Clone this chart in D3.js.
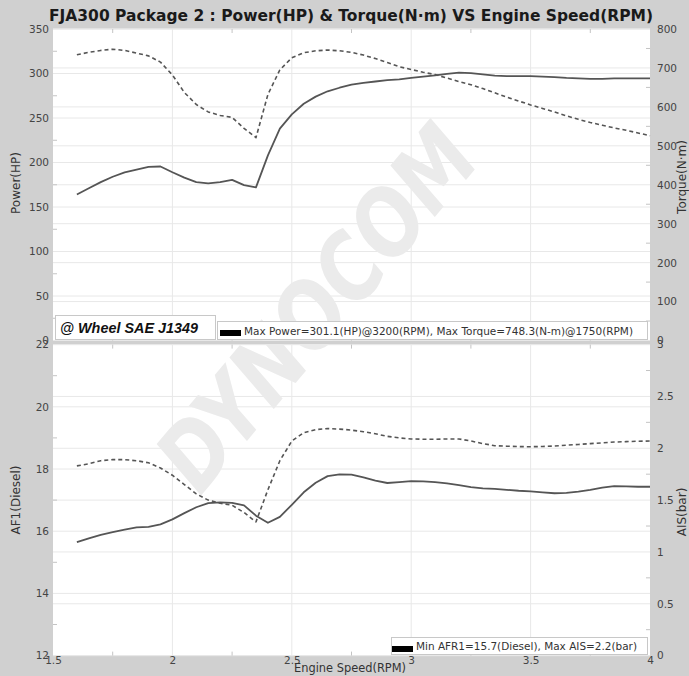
<!DOCTYPE html>
<html>
<head>
<meta charset="utf-8">
<script src="https://cdn.jsdelivr.net/npm/d3@7"></script>
<style>
  body { margin: 0; background: #d0d0d0; }
  svg { display: block; font-family: "DejaVu Sans", Verdana, sans-serif; }
</style>
</head>
<body>
<div id="chart"></div>
<script>
// Engine speed in thousands of RPM
const rpm = [1.60, 1.65, 1.70, 1.75, 1.80, 1.85, 1.90, 1.95, 2.00, 2.05, 2.10, 2.15, 2.20, 2.25, 2.30, 2.35,
  2.40, 2.45, 2.50, 2.55, 2.60, 2.65, 2.70, 2.75, 2.80, 2.85, 2.90, 2.95, 3.00, 3.05, 3.10, 3.15, 3.20,
  3.25, 3.30, 3.35, 3.40, 3.45, 3.50, 3.55, 3.60, 3.65, 3.70, 3.75, 3.80, 3.85, 3.90, 3.95, 4.00];

const powerHP = [164, 171, 178, 184, 189, 192, 195, 195.5, 189, 183, 178, 176.5, 178, 180.5, 174.5, 172,
  208, 238, 254, 266, 274, 280, 284, 287.5, 289.5, 291, 292.5, 293.5, 295, 296.5, 298, 299.5, 301,
  300.5, 299, 297.5, 297, 297, 297, 296.5, 296, 295, 294.5, 294, 294, 294.5, 294.5, 294.5, 294.5];

const torqueNm = [734, 740, 745, 748, 745, 738, 731, 715, 682, 637, 606, 587, 578, 573, 545, 521,
  632, 695, 726, 739, 744, 746, 744, 740, 733, 724, 714, 703, 696, 689, 683, 674, 665,
  657, 647, 636, 625, 615, 605, 596, 587, 577, 568, 560, 553, 546, 540, 533, 526];

const afr1 = [15.65, 15.77, 15.88, 15.97, 16.05, 16.12, 16.14, 16.22, 16.38, 16.58, 16.77, 16.9, 16.93, 16.91, 16.83, 16.5,
  16.27, 16.46, 16.85, 17.25, 17.56, 17.77, 17.83, 17.82, 17.73, 17.63, 17.55, 17.58, 17.61, 17.6, 17.58, 17.54, 17.48,
  17.42, 17.38, 17.36, 17.33, 17.3, 17.28, 17.25, 17.22, 17.23, 17.27, 17.33, 17.4, 17.45, 17.44, 17.43, 17.43];

const ais5 = [1.83, 1.85, 1.88, 1.89, 1.89, 1.88, 1.86, 1.81, 1.74, 1.65, 1.56, 1.50, 1.47, 1.45, 1.38, 1.29,
  1.60, 1.88, 2.07, 2.15, 2.18, 2.19, 2.185, 2.175, 2.16, 2.14, 2.115, 2.10, 2.09, 2.087, 2.087, 2.09, 2.09,
  2.07, 2.045, 2.025, 2.02, 2.016, 2.015, 2.017, 2.022, 2.03, 2.037, 2.045, 2.052, 2.06, 2.064, 2.068, 2.07];

const xTicks = [1.5, 2, 2.5, 3, 3.5, 4];
const hpTicks = [0, 50, 100, 150, 200, 250, 300, 350];
const tqTicks = [0, 100, 200, 300, 400, 500, 600, 700, 800];
const afrTicks = [12, 14, 16, 18, 20, 22];
const aisTicks = [0, 0.5, 1, 1.5, 2, 2.5, 3];

const titleText = "FJA300 Package 2 : Power(HP) & Torque(N·m) VS Engine Speed(RPM)";
const topLegend = "Max Power=301.1(HP)@3200(RPM), Max Torque=748.3(N-m)@1750(RPM)";
const bottomLegend = "Min AFR1=15.7(Diesel), Max AIS=2.2(bar)";

const width = 689, height = 676;
const left = 53, right = 650;
const top1 = 29, bot1 = 340.5, top2 = 344.6, bot2 = 655.6;

const svg = d3.select("#chart").append("svg")
  .attr("width", width)
  .attr("height", height);

svg.append("rect").attr("width", width).attr("height", height).attr("fill", "#d0d0d0");

// scales
const x = d3.scaleLinear().domain([1.5, 4]).range([left, right]);
const yHP = d3.scaleLinear().domain([0, 350]).range([bot1, top1]);
const yTq = d3.scaleLinear().domain([0, 800]).range([bot1, top1]);
const yAfr = d3.scaleLinear().domain([12, 22]).range([bot2, top2]);
const yAis = d3.scaleLinear().domain([0, 3]).range([bot2, top2]);

// plot backgrounds
[[top1, bot1], [top2, bot2]].forEach(([t, b]) => {
  svg.append("rect")
    .attr("x", left).attr("y", t)
    .attr("width", right - left).attr("height", b - t)
    .attr("fill", "#fff");
});

const defs = svg.append("defs");
const clip = defs.append("clipPath").attr("id", "plots");
clip.append("rect").attr("x", left).attr("y", top1).attr("width", right - left).attr("height", bot1 - top1);
clip.append("rect").attr("x", left).attr("y", top2).attr("width", right - left).attr("height", bot2 - top2);

// gridlines
const grid = svg.append("g").attr("stroke", "#e8e8e8").attr("stroke-width", 1);
hpTicks.forEach(v => grid.append("line").attr("x1", left).attr("x2", right).attr("y1", yHP(v)).attr("y2", yHP(v)));
tqTicks.forEach(v => grid.append("line").attr("x1", left).attr("x2", right).attr("y1", yTq(v)).attr("y2", yTq(v)));
afrTicks.forEach(v => grid.append("line").attr("x1", left).attr("x2", right).attr("y1", yAfr(v)).attr("y2", yAfr(v)));
aisTicks.forEach(v => grid.append("line").attr("x1", left).attr("x2", right).attr("y1", yAis(v)).attr("y2", yAis(v)));
[2, 2.5, 3, 3.5].forEach(v => {
  grid.append("line").attr("x1", x(v)).attr("x2", x(v)).attr("y1", top1).attr("y2", bot1);
  grid.append("line").attr("x1", x(v)).attr("x2", x(v)).attr("y1", top2).attr("y2", bot2);
});

// small edge ticks
const edge = svg.append("g").attr("stroke", "#c4c4c4").attr("stroke-width", 1);
d3.range(1.75, 4, 0.5).forEach(v => {
  [top1, bot1, top2, bot2].forEach((yy, i) => {
    const d = i % 2 === 0 ? 4 : -4;
    edge.append("line").attr("x1", x(v)).attr("x2", x(v)).attr("y1", yy).attr("y2", yy + d);
  });
});
d3.range(25, 350, 50).forEach(v => edge.append("line").attr("x1", left).attr("x2", left + 4).attr("y1", yHP(v)).attr("y2", yHP(v)));
d3.range(13, 22, 2).forEach(v => edge.append("line").attr("x1", left).attr("x2", left + 4).attr("y1", yAfr(v)).attr("y2", yAfr(v)));
d3.range(50, 800, 100).forEach(v => edge.append("line").attr("x1", right).attr("x2", right - 4).attr("y1", yTq(v)).attr("y2", yTq(v)));
d3.range(0.25, 3, 0.5).forEach(v => edge.append("line").attr("x1", right).attr("x2", right - 4).attr("y1", yAis(v)).attr("y2", yAis(v)));

// watermark
svg.append("g").attr("clip-path", "url(#plots)")
  .append("text")
  .attr("transform", "translate(322,312) rotate(-50)")
  .attr("text-anchor", "middle")
  .attr("dominant-baseline", "middle")
  .attr("font-size", 92)
  .attr("font-weight", "bold")
  .attr("font-style", "italic")
  .attr("textLength", 440)
  .attr("lengthAdjust", "spacingAndGlyphs")
  .attr("fill", "#ebebeb")
  .text("DYNOCOM");

// curves
const lineOf = (ys) => d3.line().x((d, i) => x(rpm[i])).y((d, i) => ys(d));
const curve = (data, ys, dashed) => svg.append("path")
  .datum(data)
  .attr("fill", "none")
  .attr("stroke", "#555")
  .attr("stroke-width", dashed ? 1.6 : 1.8)
  .attr("stroke-dasharray", dashed ? "4,3" : null)
  .attr("stroke-linejoin", "round")
  .attr("d", lineOf(ys));

curve(powerHP, yHP, false);
curve(torqueNm, yTq, true);
curve(afr1, yAfr, false);
curve(ais5, yAis, true);

// axes labels
const styleAxis = g => {
  g.select(".domain").remove();
  g.selectAll(".tick line").remove();
  g.selectAll(".tick text").attr("fill", "#444").attr("font-size", 10.5)
    .attr("font-family", "DejaVu Sans, Verdana, sans-serif");
};

svg.append("g").attr("transform", `translate(${left},0)`)
  .call(d3.axisLeft(yHP).tickValues(hpTicks).tickSize(0).tickPadding(4)).call(styleAxis);
svg.append("g").attr("transform", `translate(${left},0)`)
  .call(d3.axisLeft(yAfr).tickValues(afrTicks).tickSize(0).tickPadding(4)).call(styleAxis);
svg.append("g").attr("transform", `translate(${right},0)`)
  .call(d3.axisRight(yTq).tickValues(tqTicks).tickSize(0).tickPadding(7)).call(styleAxis);
svg.append("g").attr("transform", `translate(${right},0)`)
  .call(d3.axisRight(yAis).tickValues(aisTicks).tickSize(0).tickPadding(7).tickFormat(d3.format("~g"))).call(styleAxis);
svg.append("g").attr("transform", `translate(0,${bot2})`)
  .call(d3.axisBottom(x).tickValues(xTicks).tickSize(0).tickPadding(1).tickFormat(d3.format("~g"))).call(styleAxis);

// axis titles
const title = (tx, ty, rot, txt) => svg.append("text")
  .attr("transform", `translate(${tx},${ty}) rotate(${rot})`)
  .attr("text-anchor", "middle")
  .attr("font-size", 12)
  .attr("fill", "#333")
  .text(txt);

title(20, 183, -90, "Power(HP)");
title(20, 500, -90, "AF1(Diesel)");
title(686, 177, -90, "Torque(N·m)");
title(686, 512, -90, "AIS(bar)");
svg.append("text")
  .attr("x", 350).attr("y", 672)
  .attr("text-anchor", "middle")
  .attr("font-size", 11.5)
  .attr("fill", "#333")
  .attr("textLength", 112)
  .attr("lengthAdjust", "spacingAndGlyphs")
  .text("Engine Speed(RPM)");

// chart title
svg.append("text")
  .attr("x", 351).attr("y", 21)
  .attr("text-anchor", "middle")
  .attr("font-size", 16)
  .attr("font-weight", "bold")
  .attr("fill", "#1a1a1a")
  .attr("textLength", 604)
  .attr("lengthAdjust", "spacingAndGlyphs")
  .text(titleText);

// legend boxes
svg.append("rect")
  .attr("x", 55.5).attr("y", 315.5).attr("width", 160).attr("height", 24)
  .attr("fill", "#fff").attr("stroke", "#c8c8c8");
svg.append("text")
  .attr("x", 60).attr("y", 333)
  .attr("font-family", "Liberation Sans, Arial, sans-serif")
  .attr("font-size", 14)
  .attr("font-weight", "bold")
  .attr("font-style", "italic")
  .attr("fill", "#111")
  .attr("textLength", 138)
  .attr("lengthAdjust", "spacingAndGlyphs")
  .text("@ Wheel SAE J1349");

svg.append("rect")
  .attr("x", 217.5).attr("y", 321.5).attr("width", 430).attr("height", 18)
  .attr("fill", "#fff").attr("stroke", "#c8c8c8");
svg.append("rect")
  .attr("x", 220).attr("y", 330).attr("width", 21).attr("height", 6).attr("fill", "#000");
svg.append("text")
  .attr("x", 244).attr("y", 334.5)
  .attr("font-size", 10.5)
  .attr("fill", "#333")
  .attr("textLength", 389)
  .attr("lengthAdjust", "spacingAndGlyphs")
  .text(topLegend);

svg.append("rect")
  .attr("x", 391.5).attr("y", 637.5).attr("width", 256).attr("height", 17)
  .attr("fill", "#fff").attr("stroke", "#c8c8c8");
svg.append("rect")
  .attr("x", 392).attr("y", 646).attr("width", 21).attr("height", 6).attr("fill", "#000");
svg.append("text")
  .attr("x", 416).attr("y", 650)
  .attr("font-size", 10.5)
  .attr("fill", "#333")
  .attr("textLength", 221)
  .attr("lengthAdjust", "spacingAndGlyphs")
  .text(bottomLegend);
</script>
</body>
</html>
